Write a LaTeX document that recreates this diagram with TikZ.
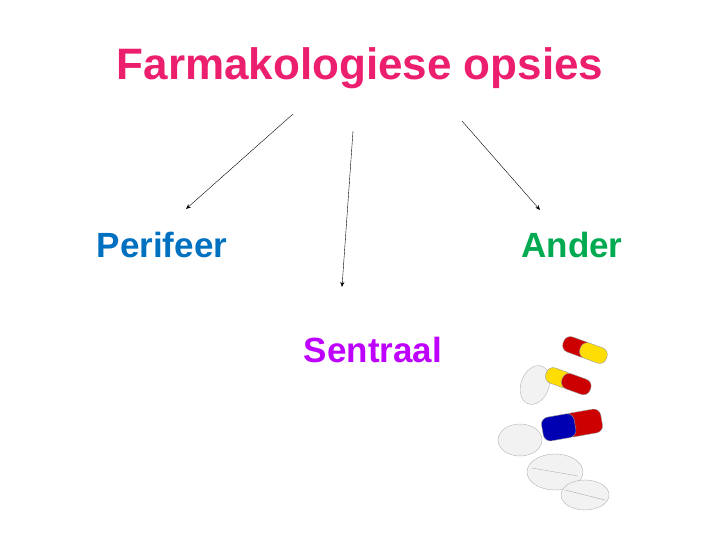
\documentclass[tikz,border=0pt]{standalone}
\usepackage{fontspec}
\setmainfont{Liberation Sans}
\definecolor{titlepink}{RGB}{236,30,110}
\definecolor{periblue}{RGB}{0,112,192}
\definecolor{andergreen}{RGB}{0,170,80}
\definecolor{sentpurple}{RGB}{190,0,255}
\tikzstyle{line} = [draw,-{Stealth[length=5pt,width=4pt]},thin]
\tikzstyle{label} = [font=\bfseries\fontsize{35}{40}\selectfont]
\tikzstyle{tablet} = [draw=gray!60,fill=gray!10]
\tikzstyle{capsule} = [rounded corners=7pt,draw=black!40]
\usetikzlibrary{arrows.meta}
\begin{document}
\begin{tikzpicture}[x=1pt,y=-1pt]
\useasboundingbox (0,0) rectangle (720,540);
%title
\node[font=\bfseries\fontsize{44}{50}\selectfont,text=titlepink] (title) at (360,68) {Farmakologiese opsies};
%labels
\node[label,text=periblue] (peri) at (162,245) {Perifeer};
\node[label,text=andergreen] (ander) at (572,245) {Ander};
\node[label,text=sentpurple] (sent) at (373,350) {Sentraal};
%arrows
\coordinate (a1) at (293,114);
\coordinate (a2) at (353,131);
\coordinate (a3) at (462,121);
\coordinate (b1) at (186,209);
\coordinate (b2) at (342,287);
\coordinate (b3) at (540,210);
\path [line] (a1) -- (b1);
\path [line] (a2) -- (b2);
\path [line] (a3) -- (b3);
%pills
\filldraw[tablet,rotate around={-20:(535,385)}] (535,385) ellipse (14 and 20);
\begin{scope}[rotate around={-20:(585,350)}]
\fill[red!80!black,capsule] (562,342) rectangle (592,358);
\fill[yellow!80!orange,capsule] (580,342) rectangle (608,358);
\end{scope}
\begin{scope}[rotate around={-20:(565,380)}]
\fill[yellow!80!orange,capsule] (545,372) rectangle (572,388);
\fill[red!80!black,capsule] (562,372) rectangle (592,388);
\end{scope}
\filldraw[tablet] (520,440) ellipse (22 and 16);
\begin{scope}[rotate around={10:(572,425)}]
\fill[red!80!black,capsule] (565,413) rectangle (602,437);
\fill[blue!70!black,capsule] (542,413) rectangle (575,437);
\end{scope}
\filldraw[tablet] (555,472) ellipse (28 and 18);
\draw[gray!60] (532,468) -- (578,476);
\filldraw[tablet] (585,495) ellipse (24 and 15);
\draw[gray!60] (565,490) -- (605,500);
\end{tikzpicture}
\end{document}
